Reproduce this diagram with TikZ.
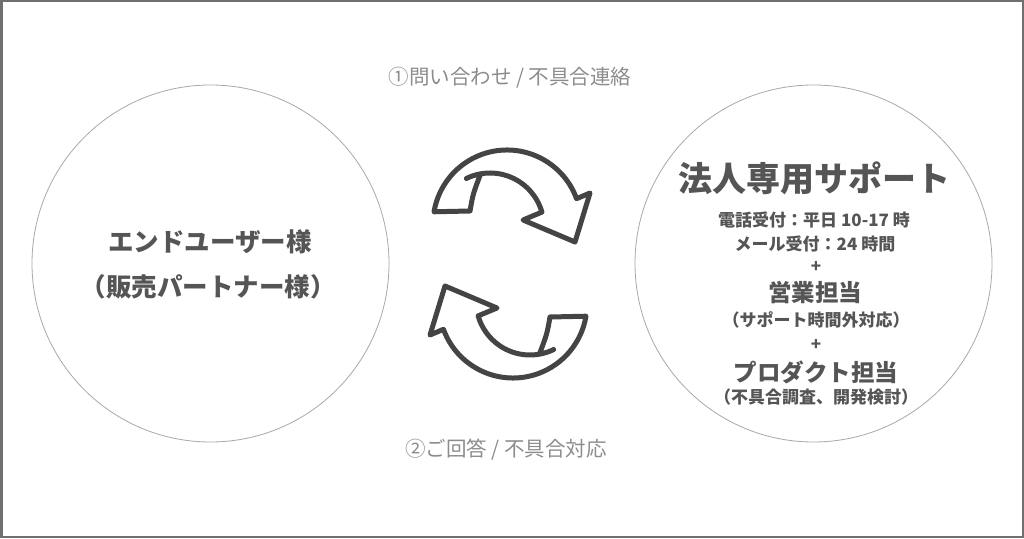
\documentclass[tikz,border=0pt]{standalone}
\usepackage{fontspec}
\setmainfont{Noto Sans CJK JP}
\usepackage{tikz}
\usetikzlibrary{positioning}
\definecolor{framegray}{HTML}{707070}
\definecolor{ringgray}{HTML}{A8A8A8}
\definecolor{textgray}{HTML}{555555}
\definecolor{notegray}{HTML}{8C8C8C}
\definecolor{arrowgray}{HTML}{444444}
\tikzset{
    party/.style={inner sep=0pt, text=textgray, font=\bfseries\fontsize{25.5}{30}\selectfont},
    duty/.style={inner sep=0pt, text=textgray, font=\bfseries\fontsize{23.5}{28}\selectfont},
    headline/.style={inner sep=0pt, text=textgray, font=\bfseries\fontsize{34}{40}\selectfont},
    detail/.style={inner sep=0pt, text=textgray, font=\bfseries\fontsize{17}{20}\selectfont},
    flowlabel/.style={inner sep=0pt, text=notegray, font=\fontsize{20.5}{24}\selectfont},
    ring/.style={draw=ringgray, line width=0.8pt},
    cyclearrow/.style={draw=arrowgray, line width=5pt, line join=round, line cap=round},
}
\begin{document}
\begin{tikzpicture}[x=1pt, y=1pt]
	\useasboundingbox (0,0) rectangle (1024,538);
	\draw[framegray, line width=2.5pt] (1.25,1.25) rectangle (1022.75,536.75);
	% two parties
	\draw[ring] (210.5,274.5) circle (178.5);
	\draw[ring] (813.5,274.5) circle (178.5);
		\node[party] (user) at (210,296) {エンドユーザー様};
		\node[party] (partner) at (208,251) {（販売パートナー様）};
		\node[headline] (support) at (814,360) {法人専用サポート};
		\node[detail] (tel) at (814,318) {電話受付：平日 10-17 時};
		\node[detail] (mail) at (815,294) {メール受付：24 時間};
		\node[detail] (plusa) at (816,271) {+};
		\node[duty] (sales) at (815,245) {営業担当};
		\node[detail] (salesnote) at (816,218) {（サポート時間外対応）};
		\node[detail] (plusb) at (816,193) {+};
		\node[duty] (product) at (816,166) {プロダクト担当};
		\node[detail] (productnote) at (816,141) {（不具合調査、開発検討）};
	% flow
		\node[flowlabel] (ask) at (510,460) {①問い合わせ / 不具合連絡};
		\node[flowlabel] (reply) at (506,88) {②ご回答 / 不具合対応};
	\foreach \r in {0,180}
		\draw[cyclearrow, shift={(510,274)}, rotate=\r]
			([shift={(-20,37)}]116:54) arc[start angle=116, end angle=16, radius=54]
			-- (13,44) -- (65,22) -- (80,71)
			-- ([shift={(-3,40)}]20:74) arc[start angle=20, end angle=170.5, radius=74]
			-- (-40,53) .. controls (-37,70) .. ([shift={(-20,37)}]100:54);
\end{tikzpicture}
\end{document}
